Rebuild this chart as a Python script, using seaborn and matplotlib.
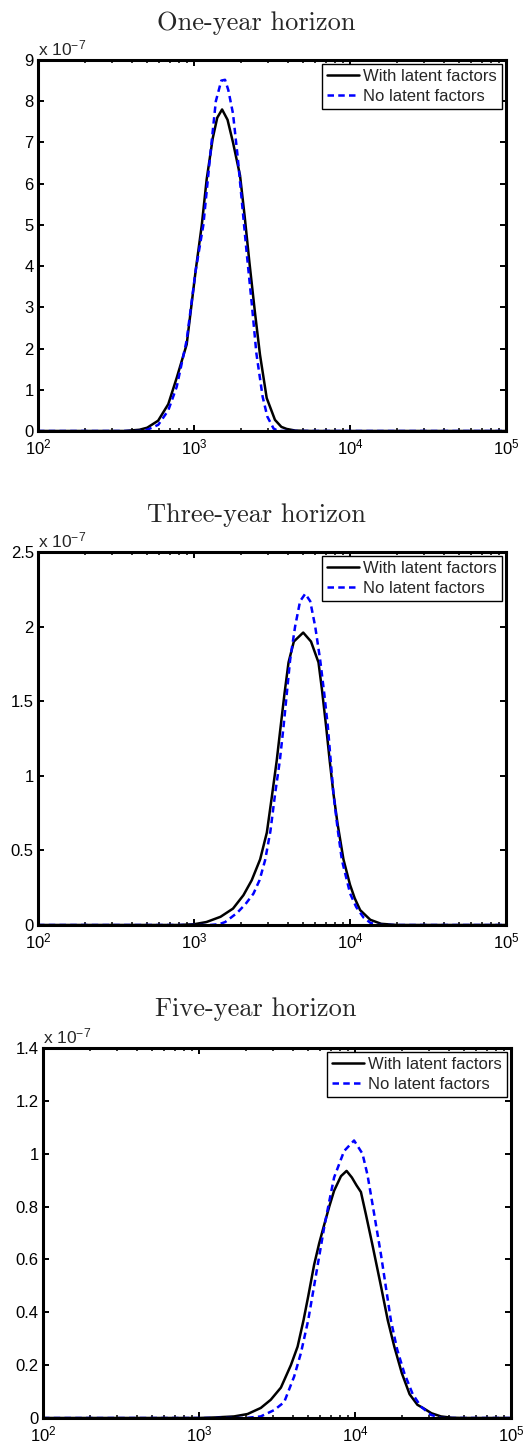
import numpy as np
import pandas as pd
import matplotlib
matplotlib.use("Agg")
import matplotlib.pyplot as plt
import seaborn as sns
from matplotlib.ticker import LogLocator, FixedLocator, FuncFormatter, NullFormatter

# ---------------- data (densities in units of 1e-7, x as log10 of wealth) ----------------
one_year_with_logx = [2.0, 2.55, 2.65, 2.70, 2.77, 2.835, 2.89, 2.953, 3.011, 3.05, 3.081, 3.12,
                      3.149, 3.18, 3.215, 3.25, 3.295, 3.325, 3.355, 3.39, 3.423, 3.466, 3.519,
                      3.56, 3.594, 3.65, 3.75, 5.0]
one_year_with_dens = [0.0, 0.0, 0.03, 0.08, 0.25, 0.65, 1.3, 2.1, 3.9, 5.0, 6.1, 7.1,
                      7.6, 7.8, 7.55, 7.0, 6.2, 5.2, 4.1, 2.9, 1.85, 0.8, 0.27,
                      0.1, 0.05, 0.01, 0.0, 0.0]
one_year_no_logx = [2.0, 2.65, 2.70, 2.771, 2.835, 2.889, 2.953, 3.011, 3.06, 3.103, 3.14, 3.175,
                    3.199, 3.22, 3.25, 3.28, 3.306, 3.338, 3.37, 3.40, 3.44, 3.47, 3.51, 3.54, 5.0]
one_year_no_dens = [0.0, 0.0, 0.03, 0.15, 0.5, 1.07, 2.2, 3.9, 5.0, 6.65, 8.0, 8.5,
                    8.52, 8.27, 7.7, 6.65, 5.6, 4.31, 3.1, 1.88, 0.83, 0.35, 0.06, 0.0, 0.0]

three_year_with_logx = [2.0, 2.9, 3.0, 3.08, 3.17, 3.25, 3.317, 3.37, 3.424, 3.467, 3.499, 3.53,
                        3.552, 3.58, 3.606, 3.64, 3.70, 3.75, 3.798, 3.82, 3.847, 3.87, 3.894,
                        3.92, 3.958, 4.0, 4.03, 4.065, 4.13, 4.2, 4.3, 5.0]
three_year_with_dens = [0.0, 0.0, 0.005, 0.02, 0.055, 0.11, 0.2, 0.3, 0.44, 0.62, 0.86, 1.1,
                        1.3, 1.55, 1.76, 1.9, 1.96, 1.9, 1.76, 1.58, 1.33, 1.1, 0.88,
                        0.68, 0.44, 0.27, 0.18, 0.1, 0.035, 0.008, 0.0, 0.0]
three_year_no_logx = [2.0, 3.1, 3.16, 3.2, 3.275, 3.33, 3.381, 3.42, 3.456, 3.49, 3.52, 3.55,
                      3.574, 3.616, 3.648, 3.68, 3.713, 3.745, 3.777, 3.809, 3.835, 3.858,
                      3.894, 3.92, 3.948, 4.001, 4.04, 4.087, 4.13, 4.18, 5.0]
three_year_no_dens = [0.0, 0.0, 0.005, 0.02, 0.08, 0.14, 0.21, 0.3, 0.435, 0.63, 0.88, 1.1,
                      1.33, 1.775, 2.0, 2.17, 2.22, 2.17, 2.0, 1.775, 1.55, 1.33,
                      0.88, 0.65, 0.435, 0.21, 0.12, 0.05, 0.015, 0.0, 0.0]

five_year_with_logx = [2.0, 3.0, 3.1, 3.225, 3.311, 3.396, 3.46, 3.525, 3.589, 3.632, 3.67, 3.70,
                       3.738, 3.77, 3.802, 3.835, 3.866, 3.91, 3.946, 3.98, 4.01, 4.038, 4.07,
                       4.11, 4.166, 4.21, 4.252, 4.30, 4.35, 4.40, 4.444, 4.49, 4.551, 4.62,
                       4.7, 5.0]
five_year_with_dens = [0.0, 0.0, 0.002, 0.006, 0.015, 0.038, 0.069, 0.115, 0.2, 0.27, 0.37, 0.46,
                       0.58, 0.66, 0.73, 0.80, 0.86, 0.915, 0.935, 0.91, 0.88, 0.855, 0.77,
                       0.66, 0.5, 0.37, 0.27, 0.17, 0.09, 0.05, 0.035, 0.018, 0.006, 0.001,
                       0.0, 0.0]
five_year_no_logx = [2.0, 3.3, 3.396, 3.482, 3.546, 3.61, 3.653, 3.7, 3.738, 3.77, 3.802, 3.835,
                     3.866, 3.93, 3.994, 4.048, 4.08, 4.112, 4.166, 4.23, 4.27, 4.316, 4.37,
                     4.423, 4.487, 4.55, 5.0]
five_year_no_dens = [0.0, 0.0, 0.006, 0.03, 0.06, 0.157, 0.245, 0.37, 0.5, 0.61, 0.72, 0.82,
                     0.91, 1.01, 1.05, 1.0, 0.92, 0.81, 0.62, 0.37, 0.26, 0.17, 0.09,
                     0.043, 0.012, 0.0, 0.0]

titles = ["One-year horizon", "Three-year horizon", "Five-year horizon"]
series_labels = ["With latent factors", "No latent factors"]
y_ticks = [[0, 1, 2, 3, 4, 5, 6, 7, 8, 9],
           [0, 0.5, 1, 1.5, 2, 2.5],
           [0, 0.2, 0.4, 0.6, 0.8, 1, 1.2, 1.4]]
x_ticks = [1e2, 1e3, 1e4, 1e5]
scale_label = r"x 10$^{-7}$"

# ---------------- style ----------------
sns.set_style("ticks")
plt.rcParams["font.family"] = ["Liberation Sans", "DejaVu Sans"]
plt.rcParams["mathtext.fontset"] = "custom"
plt.rcParams["mathtext.rm"] = "Liberation Sans"
plt.rcParams["mathtext.it"] = "Liberation Sans:italic"
plt.rcParams["mathtext.bf"] = "Liberation Sans:bold"

W, H = 528, 1447
fig = plt.figure(figsize=(W / 100, H / 100), dpi=100)
fig.patch.set_facecolor("white")

# axes boxes in pixels: left, top, right, bottom ; title baseline y
boxes = [(38, 60, 506, 431, 30), (38, 552, 506, 925, 522), (43, 1048, 511, 1418, 1016)]

data = [
    (one_year_with_logx, one_year_with_dens, one_year_no_logx, one_year_no_dens),
    (three_year_with_logx, three_year_with_dens, three_year_no_logx, three_year_no_dens),
    (five_year_with_logx, five_year_with_dens, five_year_no_logx, five_year_no_dens),
]

for i, (box, d) in enumerate(zip(boxes, data)):
    l, t, r, b, tb = box
    ax = fig.add_axes([l / W, 1 - b / H, (r - l) / W, (b - t) / H])
    wx, wy, nx, ny = d
    df_w = pd.DataFrame({"wealth": 10 ** np.array(wx), "density": np.array(wy)})
    df_n = pd.DataFrame({"wealth": 10 ** np.array(nx), "density": np.array(ny)})
    sns.lineplot(data=df_w, x="wealth", y="density", ax=ax, color="black", lw=1.8,
                 estimator=None, sort=False, label=series_labels[0])
    sns.lineplot(data=df_n, x="wealth", y="density", ax=ax, color="#0000ff", lw=1.8,
                 estimator=None, sort=False, label=series_labels[1],
                 linestyle=(0, (2.6, 1.7)))
    ax.set_xscale("log")
    ax.set_xlim(1e2, 1e5)
    ax.set_ylim(0, y_ticks[i][-1])
    ax.set_xlabel("")
    ax.set_ylabel("")
    ax.xaxis.set_major_locator(FixedLocator(x_ticks))
    ax.xaxis.set_minor_locator(LogLocator(base=10, subs=np.arange(2, 10)))
    ax.xaxis.set_minor_formatter(NullFormatter())
    ax.yaxis.set_major_locator(FixedLocator(y_ticks[i]))
    ax.yaxis.set_major_formatter(FuncFormatter(lambda v, p: "%g" % v))
    ax.tick_params(which="both", direction="in", top=True, right=True,
                   labelsize=12, color="black", labelcolor="black")
    ax.tick_params(which="major", length=4.5, width=1.4)
    ax.tick_params(which="minor", length=2.4, width=1.1)
    ax.tick_params(axis="x", which="major", pad=4.5)
    ax.tick_params(axis="y", which="major", pad=3)
    for sp in ax.spines.values():
        sp.set_visible(True)
        sp.set_linewidth(2.2)
        sp.set_color("black")
    ax.set_facecolor("white")
    leg = ax.legend(loc="upper right", frameon=True, fancybox=False, edgecolor="black",
                    framealpha=1, fontsize=12, borderaxespad=0.25, borderpad=0.3,
                    handlelength=1.9, handletextpad=0.25, labelspacing=0.28)
    leg.get_frame().set_linewidth(1.0)
    ax.annotate(scale_label, xy=(0, 1), xycoords="axes fraction", xytext=(0, 5),
                textcoords="offset pixels", ha="left", va="baseline", fontsize=12.5)
    fig.text(256 / W, 1 - tb / H, titles[i], family="cmr10", fontsize=19,
             ha="center", va="baseline")

fig.savefig("out.png", dpi=100, facecolor="white")
